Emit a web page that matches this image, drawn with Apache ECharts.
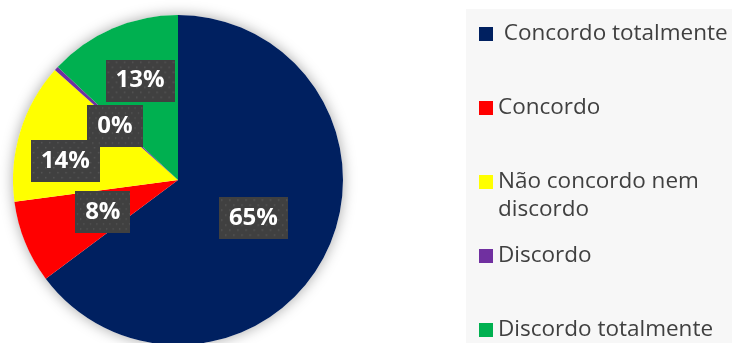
<!DOCTYPE html>
<html>
<head>
<meta charset="utf-8">
<script src="https://cdn.jsdelivr.net/npm/echarts@6/dist/echarts.min.js"></script>
<style>
  html, body { margin: 0; padding: 0; background: #ffffff; }
  #chart { width: 732px; height: 343px; }
</style>
</head>
<body>
<div id="chart"></div>
<script>
// Survey answers (share of respondents, %)
const categories = [
  'Concordo totalmente',
  'Concordo',
  'Não concordo nem discordo',
  'Discordo',
  'Discordo totalmente'
];
const shares = [64.8, 8.1, 13.7, 0.4, 13.0];
const legendLabels = [
  ' Concordo totalmente',
  'Concordo',
  '\nNão concordo nem\ndiscordo',
  'Discordo',
  'Discordo totalmente'
];

const colors = ['#002060', '#FF0000', '#FFFF00', '#7030A0', '#00B050'];

// nudges for the labels that would otherwise collide
const labelShift = [[-1, 0], [4, 0], [-31, 6], [0, 4], [-4, -21]];

// dotted dark texture for the value boxes
function dotTexture() {
  const c = document.createElement('canvas');
  c.width = 68; c.height = 42;
  const g = c.getContext('2d');
  g.fillStyle = '#404040';
  g.fillRect(0, 0, c.width, c.height);
  g.fillStyle = '#565656';
  for (let y = 2, row = 0; y < c.height; y += 5, row++) {
    for (let x = (row % 2) ? 6 : 2; x < c.width; x += 8) {
      g.fillRect(x, y, 1.5, 1.5);
    }
  }
  return c;
}

const chart = echarts.init(document.getElementById('chart'), null, { renderer: 'canvas' });

const legendTops = [20, 94, 140, 242, 316];
const legends = categories.map((name, i) => ({
  orient: 'vertical',
  left: 479,
  top: legendTops[i],
  padding: 0,
  itemWidth: 14,
  itemHeight: 14,
  icon: 'rect',
  selectedMode: false,
  data: [name],
  formatter: () => legendLabels[i],
  textStyle: {
    fontFamily: 'Open Sans',
    fontSize: 22.5,
    color: '#404040',
    lineHeight: 28
  }
}));

const option = {
  animation: false,
  backgroundColor: '#ffffff',
  color: colors,
  graphic: [{
    type: 'rect',
    z: -10,
    shape: { x: 466, y: 9, width: 266, height: 334 },
    style: { fill: '#f7f7f7' }
  }],
  legend: legends,
  series: [
    {
      // soft halo behind the pie
      type: 'pie',
      name: 'halo',
      silent: true,
      z: 1,
      center: [178, 180],
      radius: 165,
      label: { show: false },
      labelLine: { show: false },
      itemStyle: {
        color: '#ffffff',
        shadowBlur: 14,
        shadowColor: 'rgba(0,0,0,0.35)'
      },
      data: [{ value: 1, name: '' }]
    },
    {
      type: 'pie',
      name: 'Respostas',
      z: 2,
      center: [178, 180],
      radius: 165,
      startAngle: 90,
      clockwise: true,
      percentPrecision: 0,
      data: categories.map((name, i) => ({ name, value: shares[i] })),
      itemStyle: { borderWidth: 0 },
      label: {
        show: true,
        position: 'inside',
        formatter: '{d}%',
        fontFamily: 'Open Sans',
        fontWeight: 'bold',
        fontSize: 24,
        lineHeight: 24,
        color: '#ffffff',
        backgroundColor: { image: dotTexture() },
        padding: [9, 10],
        shadowBlur: 5,
        shadowOffsetX: 2,
        shadowOffsetY: 3,
        shadowColor: 'rgba(0,0,0,0.45)'
      },
      labelLine: { show: false },
      labelLayout: function (params) {
        const s = labelShift[params.dataIndex] || [0, 0];
        return { dx: s[0], dy: s[1] };
      }
    }
  ]
};

chart.setOption(option);
</script>
</body>
</html>
